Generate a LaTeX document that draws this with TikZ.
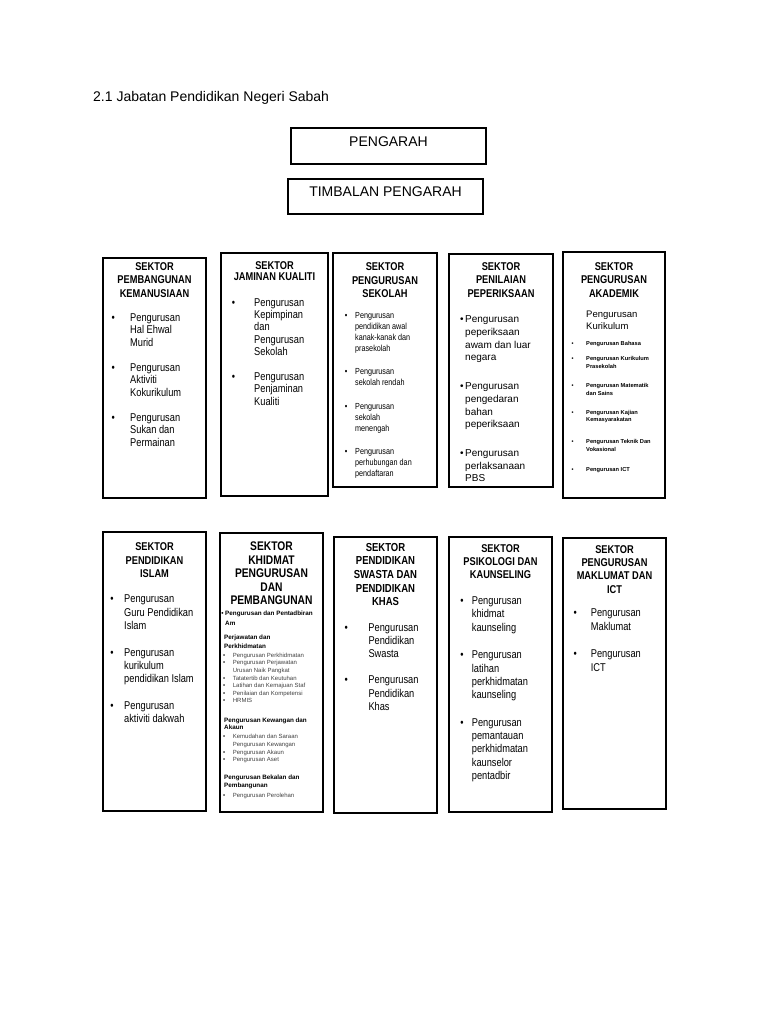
\documentclass[tikz,border=0pt]{standalone}
\usepackage{fontspec}
\setmainfont{Liberation Sans}
\newfontfamily\narrowsans[FakeStretch=0.82]{Liberation Sans}
\usetikzlibrary{positioning}

\newcommand{\bul}[1]{\leavevmode\llap{\textbullet\hspace{#1}}}
\newcommand{\sub}[1]{\hspace*{8.7pt}\llap{\textbullet\hspace{7.7pt}}\textcolor{black!75}{#1}}
\newcommand{\subx}[1]{\hspace*{8.7pt}\textcolor{black!75}{#1}}

\begin{document}
\begin{tikzpicture}[x=1pt, y=-1pt,
    sector/.style={rectangle, draw, line width=1.1pt, inner sep=0pt, outer sep=0pt},
    title/.style={anchor=base, inner sep=0pt, font={\fontsize{14}{16}\selectfont}},
    head/.style={anchor=base, inner sep=0pt, text width=100pt, align=flush center, font={\fontsize{11.3}{13.7}\narrowsans\bfseries}},
    items/.style={anchor=base west, inner sep=0pt, text width=95pt, align=flush left, font={\fontsize{11.3}{12.5}\narrowsans}}
]
\useasboundingbox (0,0) rectangle (768,1024);

\node[title, anchor=base west] (judul) at (93,101.5) {2.1 Jabatan Pendidikan Negeri Sabah};

\node[sector, minimum width=195, minimum height=36] (pengarah) at (388.5,146) {};
\node[title] (pengarah-t) at ([yshift=-18.7pt]pengarah.north) {PENGARAH};
\node[sector, minimum width=195, minimum height=35] (timbalan) at (385.5,196.5) {};
\node[title] (timbalan-t) at ([yshift=-17.7pt]timbalan.north) {TIMBALAN PENGARAH};

% baris atas
\node[sector, minimum width=103, minimum height=240] (kemanusiaan) at (154.5,378) {};
\node[head] (kemanusiaan-h) at ([yshift=-12pt]kemanusiaan.north) {SEKTOR\\PEMBANGUNAN\\KEMANUSIAAN};
\node[items] (kemanusiaan-i) at ([xshift=27pt, yshift=-63pt]kemanusiaan.north west)
  {\bul{15.4pt}Pengurusan\\Hal Ehwal\\Murid\\[12.5pt]\bul{15.4pt}Pengurusan\\Aktiviti\\Kokurikulum\\[12.5pt]\bul{15.4pt}Pengurusan\\Sukan dan\\Permainan};

\node[sector, minimum width=107, minimum height=243] (kualiti) at (274.5,374.5) {};
\node[head, font={\fontsize{11.3}{11.7}\narrowsans\bfseries}] (kualiti-h) at ([yshift=-16pt]kualiti.north) {SEKTOR\\JAMINAN KUALITI};
\node[items, font={\fontsize{11.3}{12.4}\narrowsans}] (kualiti-i) at ([xshift=33pt, yshift=-53pt]kualiti.north west)
  {\bul{19.1pt}Pengurusan\\Kepimpinan\\dan\\Pengurusan\\Sekolah\\[12.4pt]\bul{19.1pt}Pengurusan\\Penjaminan\\Kualiti};

\node[sector, minimum width=104, minimum height=234] (sekolah) at (385,370) {};
\node[head, font={\fontsize{11.3}{13.3}\narrowsans\bfseries}] (sekolah-h) at ([yshift=-17.7pt]sekolah.north) {SEKTOR\\PENGURUSAN\\SEKOLAH};
\node[items, font={\fontsize{8.8}{11}\narrowsans}] (sekolah-i) at ([xshift=22pt, yshift=-65.2pt]sekolah.north west)
  {\bul{7.7pt}Pengurusan\\pendidikan awal\\kanak-kanak dan\\prasekolah\\[12.5pt]\bul{7.7pt}Pengurusan\\sekolah rendah\\[12.5pt]\bul{7.7pt}Pengurusan\\sekolah\\menengah\\[12.5pt]\bul{7.7pt}Pengurusan\\perhubungan dan\\pendaftaran};

\node[sector, minimum width=104, minimum height=233] (peperiksaan) at (501,370.5) {};
\node[head] (peperiksaan-h) at ([yshift=-16pt]peperiksaan.north) {SEKTOR\\PENILAIAN\\PEPERIKSAAN};
\node[items, font={\fontsize{10}{12.8}\selectfont}] (peperiksaan-i) at ([xshift=16pt, yshift=-68.5pt]peperiksaan.north west)
  {\bul{1.5pt}Pengurusan\\peperiksaan\\awam dan luar\\negara\\[15.7pt]\bul{1.5pt}Pengurusan\\pengedaran\\bahan\\peperiksaan\\[15.7pt]\bul{1.5pt}Pengurusan\\perlaksanaan\\PBS};

\node[sector, minimum width=102, minimum height=246] (akademik) at (614,375) {};
\node[head] (akademik-h) at ([yshift=-18pt]akademik.north) {SEKTOR\\PENGURUSAN\\AKADEMIK};
\node[items, font={\fontsize{9.5}{12.3}\selectfont}] (kurikulum) at ([xshift=23pt, yshift=-65.4pt]akademik.north west) {Pengurusan\\Kurikulum};
\node[items, font={\fontsize{5.7}{7.5}\bfseries}] (akademik-i) at ([xshift=23pt, yshift=-93.7pt]akademik.north west)
  {\bul{12.7pt}Pengurusan Bahasa\\[7.5pt]\bul{12.7pt}Pengurusan Kurikulum\\Prasekolah\\[11.8pt]\bul{12.7pt}Pengurusan Matematik\\dan Sains\\[11.9pt]\bul{12.7pt}Pengurusan Kajian\\Kemasyarakatan\\[14.5pt]\bul{12.7pt}Pengurusan Teknik Dan\\Vokasional\\[12.5pt]\bul{12.7pt}Pengurusan ICT};

% baris bawah
\node[sector, minimum width=103, minimum height=279] (islam) at (154.5,671.5) {};
\node[head, font={\fontsize{11.3}{13.3}\narrowsans\bfseries}] (islam-h) at ([yshift=-18.7pt]islam.north) {SEKTOR\\PENDIDIKAN\\ISLAM};
\node[items, font={\fontsize{11.3}{13.3}\narrowsans}] (islam-i) at ([xshift=21pt, yshift=-70.8pt]islam.north west)
  {\bul{10.7pt}Pengurusan\\Guru Pendidikan\\Islam\\[13.3pt]\bul{10.7pt}Pengurusan\\kurikulum\\pendidikan Islam\\[13.3pt]\bul{10.7pt}Pengurusan\\aktiviti dakwah};

\node[sector, minimum width=103, minimum height=279] (khidmat) at (271.5,672.5) {};
\node[head, font={\fontsize{12.5}{13.5}\narrowsans\bfseries}] (khidmat-h) at ([yshift=-17.5pt]khidmat.north) {SEKTOR\\KHIDMAT\\PENGURUSAN\\DAN\\PEMBANGUNAN};
\node[items, font={\fontsize{6.3}{10.3}\bfseries}] (pentadbiran) at ([xshift=5pt, yshift=-82.6pt]khidmat.north west)
  {\bul{1.6pt}Pengurusan dan Pentadbiran\\Am};
\node[items, font={\fontsize{6}{7.6}\selectfont}] (perjawatan) at ([xshift=4pt, yshift=-106.9pt]khidmat.north west)
  {{\fontsize{6.3}{7.6}\bfseries Perjawatan dan\\[0.8pt]Perkhidmatan}\\[1.4pt]\sub{Pengurusan Perkhidmatan}\\\sub{Pengurusan Perjawatan}\\\subx{Urusan Naik Pangkat}\\\sub{Tatatertib dan Keutuhan}\\\sub{Latihan dan Kemajuan Staf}\\\sub{Penilaian dan Kompetensi}\\\sub{HRMIS}};
\node[items, font={\fontsize{6}{7.6}\selectfont}] (kewangan) at ([xshift=4pt, yshift=-189.3pt]khidmat.north west)
  {{\fontsize{6.3}{7.6}\bfseries Pengurusan Kewangan dan\\Akaun}\\[1.4pt]\sub{Kemudahan dan Saraan}\\\subx{Pengurusan Kewangan}\\\sub{Pengurusan Akaun}\\\sub{Pengurusan Aset}};
\node[items, font={\fontsize{6}{7.6}\selectfont}] (bekalan) at ([xshift=4pt, yshift=-246.9pt]khidmat.north west)
  {{\fontsize{6.3}{7.6}\bfseries Pengurusan Bekalan dan\\Pembangunan}\\[2.2pt]\sub{Pengurusan Perolehan}};

\node[sector, minimum width=103, minimum height=276] (swasta) at (385.5,675) {};
\node[head, font={\fontsize{11.6}{13.6}\narrowsans\bfseries}] (swasta-h) at ([yshift=-14.3pt]swasta.north) {SEKTOR\\PENDIDIKAN\\SWASTA DAN\\PENDIDIKAN\\KHAS};
\node[items, font={\fontsize{11.3}{13.2}\narrowsans}] (swasta-i) at ([xshift=34.3pt, yshift=-94.1pt]swasta.north west)
  {\bul{20.7pt}Pengurusan\\Pendidikan\\Swasta\\[13.2pt]\bul{20.7pt}Pengurusan\\Pendidikan\\Khas};

\node[sector, minimum width=103, minimum height=275] (kaunseling) at (500.5,674.5) {};
\node[head, font={\fontsize{11.3}{13.3}\narrowsans\bfseries}] (kaunseling-h) at ([yshift=-15.3pt]kaunseling.north) {SEKTOR\\PSIKOLOGI DAN\\KAUNSELING};
\node[items, font={\fontsize{11.3}{13.3}\narrowsans}] (kaunseling-i) at ([xshift=22.7pt, yshift=-67.5pt]kaunseling.north west)
  {\bul{8.4pt}Pengurusan\\khidmat\\kaunseling\\[14.3pt]\bul{8.4pt}Pengurusan\\latihan\\perkhidmatan\\kaunseling\\[14.3pt]\bul{8.4pt}Pengurusan\\pemantauan\\perkhidmatan\\kaunselor\\pentadbir};

\node[sector, minimum width=103, minimum height=271] (maklumat) at (614.5,673.5) {};
\node[head, font={\fontsize{11.3}{13.3}\narrowsans\bfseries}] (maklumat-h) at ([yshift=-15.3pt]maklumat.north) {SEKTOR\\PENGURUSAN\\MAKLUMAT DAN\\ICT};
\node[items, font={\fontsize{11.3}{13.3}\narrowsans}] (maklumat-i) at ([xshift=27.7pt, yshift=-78.8pt]maklumat.north west)
  {\bul{14.1pt}Pengurusan\\Maklumat\\[14.4pt]\bul{14.1pt}Pengurusan\\ICT};

\end{tikzpicture}
\end{document}
